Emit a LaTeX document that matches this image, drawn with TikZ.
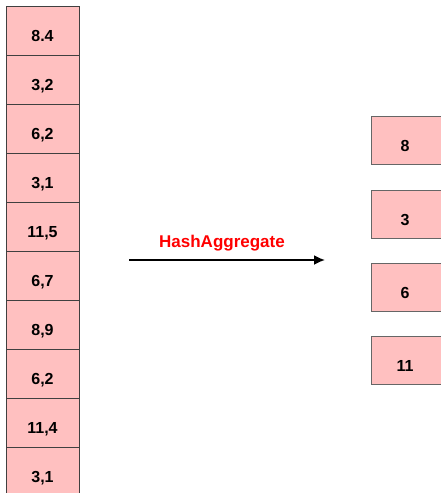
\documentclass[tikz,border=0pt]{standalone}
\usepackage{fontspec}
\setmainfont{Liberation Sans}
\usetikzlibrary{arrows.meta}
\definecolor{boxpink}{RGB}{255,192,192}
\tikzset{
  cell/.style={draw=black!75, fill=boxpink, line width=0.8pt, minimum width=73pt, minimum height=49pt, inner sep=0pt, anchor=north west},
  outcell/.style={draw=black!60, fill=boxpink, line width=1pt, minimum width=80pt, minimum height=48pt, inner sep=0pt, anchor=north west},
  val/.style={font=\bfseries\fontsize{16}{16}\selectfont, inner sep=0pt, anchor=base},
  flow/.style={-{Latex[length=11pt,width=10pt]}, line width=1.8pt, black},
  aggtext/.style={font=\bfseries\fontsize{17}{17}\selectfont, text=red, inner sep=0pt, anchor=base}
}
\begin{document}
\begin{tikzpicture}[x=1pt,y=-1pt]
\useasboundingbox (0,0) rectangle (441,493);
% input column
\foreach \v [count=\i from 0] in {8.4,{3,2},{6,2},{3,1},{11,5},{6,7},{8,9},{6,2},{11,4},{3,1}} {
  \node[cell] (L\i) at (6,{6+49*\i}) {};
  \node[val] (t\i) at (42.5,{6+49*\i+35}) {\v};
}
% output column
\foreach \v/\y [count=\i from 0] in {8/116,3/190,6/263,11/336} {
  \node[outcell] (R\i) at (371,\y) {};
  \node[val] (r\i) at (405,{\y+35}) {\v};
}
% arrow
\coordinate (a1) at (129,260);
\coordinate (a2) at (325,260);
\draw[flow] (a1) -- (a2);
\node[aggtext] (agg) at (222,247) {HashAggregate};
\end{tikzpicture}
\end{document}
